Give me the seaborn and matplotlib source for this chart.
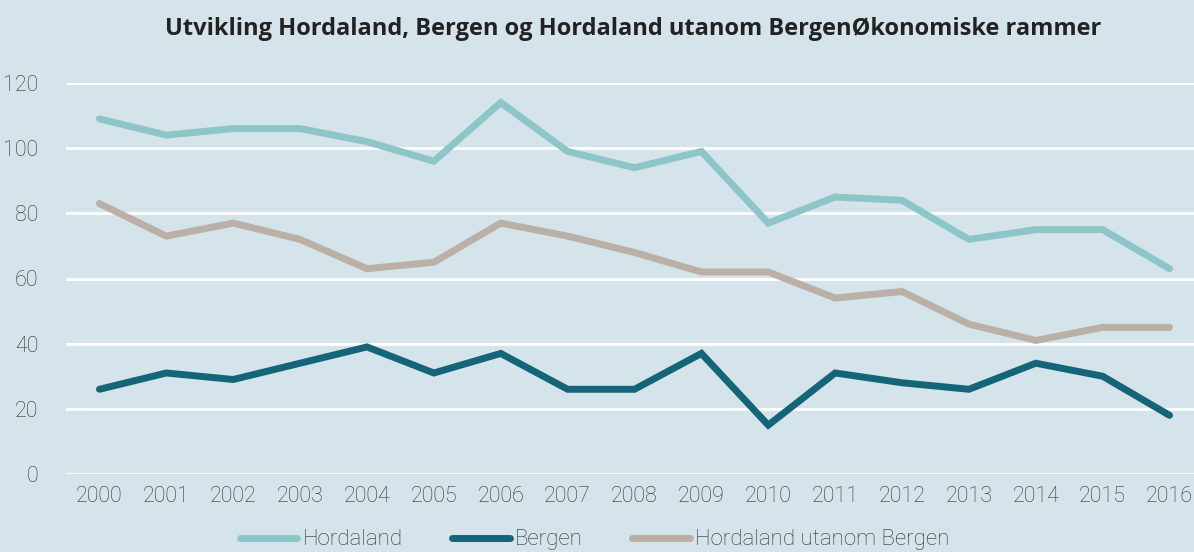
import pandas as pd
import numpy as np
import seaborn as sns
import matplotlib.pyplot as plt

# Data
years = list(range(2000, 2017))
hordaland = [109, 104, 106, 106, 102, 96, 114, 99, 94, 99, 77, 85, 84, 72, 75, 75, 63]
bergen = [26, 31, 29, 34, 39, 31, 37, 26, 26, 37, 15, 31, 28, 26, 34, 30, 18]
utanom = [83, 73, 77, 72, 63, 65, 77, 73, 68, 62, 62, 54, 56, 46, 41, 45, 45]
series_names = ['Hordaland', 'Bergen', 'Hordaland utanom Bergen']
colors = ['#8cc6c9', '#136577', '#bab0a8']

df = pd.DataFrame({'year': years, series_names[0]: hordaland,
                   series_names[1]: bergen, series_names[2]: utanom})
long = df.melt(id_vars='year', var_name='serie', value_name='verdi')

bg = '#d5e3ea'
sns.set_style('white')
plt.rcParams['font.family'] = ['Roboto', 'DejaVu Sans']

fig = plt.figure(figsize=(11.94, 5.52), dpi=100, facecolor=bg)
ax = fig.add_axes([66 / 1194, 78 / 552, 1137 / 1194, 391 / 552])
ax.set_facecolor(bg)

sns.lineplot(data=long, x='year', y='verdi', hue='serie', hue_order=series_names,
             palette=colors, linewidth=5, ax=ax, legend=False,
             solid_capstyle='round', solid_joinstyle='miter')

ax.set_xlim(1999.5, 2016.5)
ax.set_ylim(0, 120)
ax.set_yticks(np.arange(0, 121, 20))
ax.set_xticks(years)
ax.set_xticklabels([str(y) for y in years])
ax.grid(axis='y', color='white', linewidth=2)
ax.set_axisbelow(True)
sns.despine(ax=ax, left=True, bottom=True, top=True, right=True)
ax.tick_params(axis='both', length=0, labelsize=15.5, labelcolor='#333333')
ax.tick_params(axis='x', pad=9)
ax.tick_params(axis='y', pad=20)
for lab in ax.get_xticklabels() + ax.get_yticklabels():
    lab.set_fontweight('light')
ax.set_xlabel('')
ax.set_ylabel('')

fig.text(0.53, 0.948, 'Utvikling Hordaland, Bergen og Hordaland utanom BergenØkonomiske rammer',
         ha='center', va='center', fontsize=17, fontweight='bold', color='#222222',
         family=['Open Sans', 'DejaVu Sans'])

handles = [plt.Line2D([], [], color=c, linewidth=5, solid_capstyle='round') for c in colors]
fig.legend(handles, series_names, loc='center', bbox_to_anchor=(0.498, 0.022), ncol=3,
           frameon=False, handlelength=2.6, handletextpad=0.25,
           columnspacing=2.2, labelcolor='#333333', prop={'weight': 'light', 'size': 16})

fig.savefig('out.png', dpi=100, facecolor=bg)
